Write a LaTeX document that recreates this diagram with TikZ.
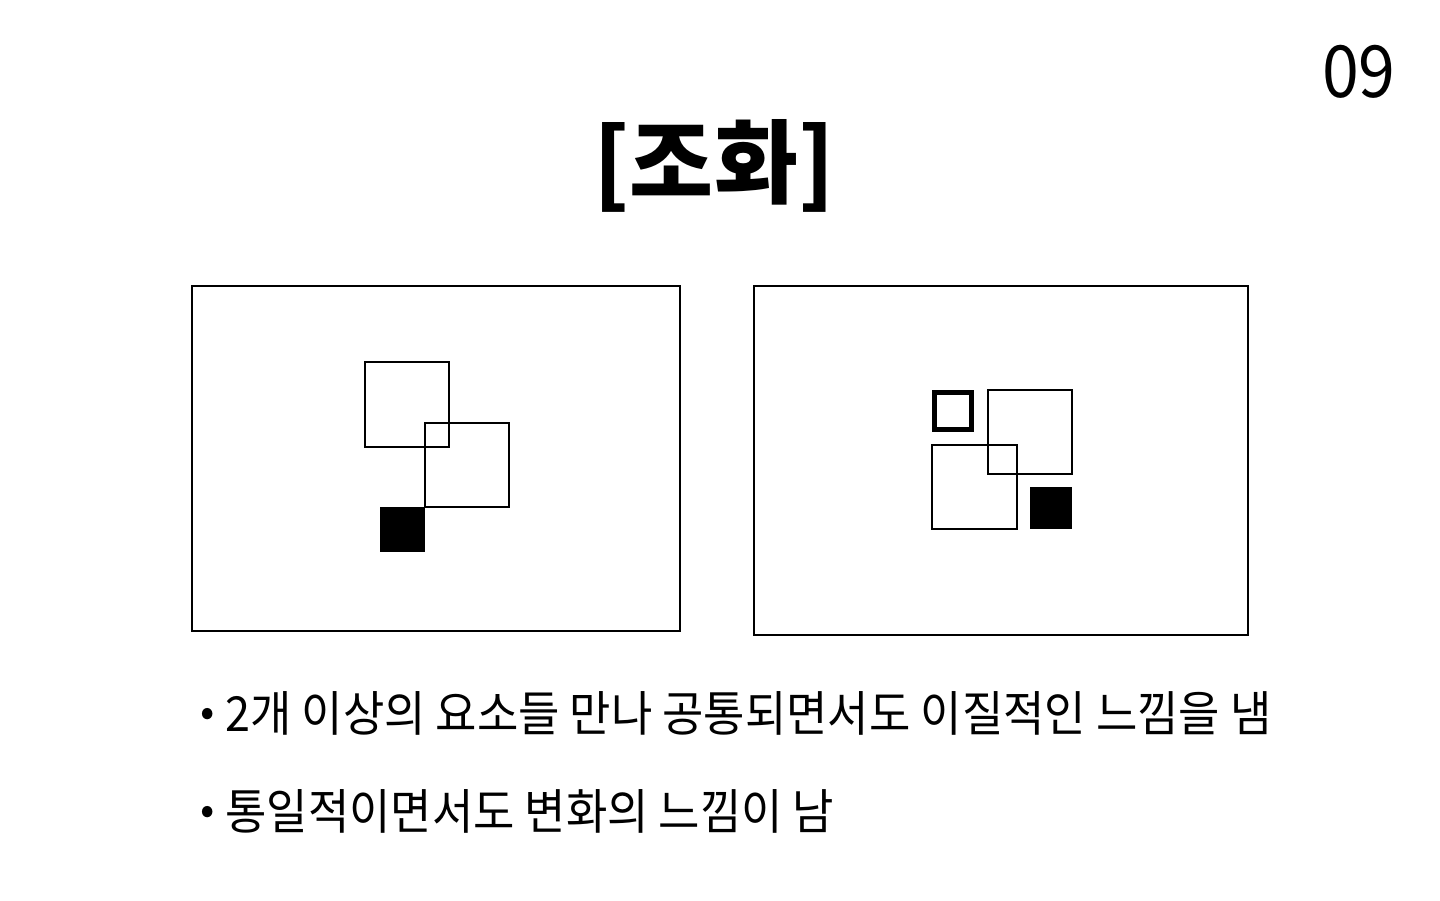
\documentclass[tikz,border=0pt]{standalone}
\usepackage{fontspec}
\setmainfont{Noto Sans CJK KR}
\colorlet{FilledSquare}{black}
\usetikzlibrary{positioning}

\begin{document}
\begin{tikzpicture}[x=0.02cm, y=-0.02cm,
    thin frame/.style={draw, line width=0.6pt},
    bullet line/.style={anchor=base west, inner sep=0pt, font=\fontsize{27.5}{27.5}\selectfont, xscale=0.93},
    bullet dot/.style={inner sep=0pt, font=\fontsize{24}{24}\selectfont}]

\useasboundingbox (0, 0) rectangle (1440, 900);

% title and page number
\node[inner sep=0pt, font=\bfseries\fontsize{52}{52}\selectfont] (title) at (714, 166) {[조화]};
\node[inner sep=0pt, font=\fontsize{41}{41}\selectfont, xscale=0.92, anchor=base east] (pagenum) at (1396, 97) {09};

% left frame
\coordinate (A) at (192, 286);
\coordinate (B) at (680, 631);
\draw[thin frame] (A) rectangle (B);
\draw[thin frame] (365, 362) rectangle (449, 447);
\draw[thin frame] (425, 423) rectangle (509, 507);
\fill[FilledSquare] (380, 507) rectangle (425, 552);

% right frame
\coordinate (C) at (754, 286);
\coordinate (D) at (1248, 635);
\draw[thin frame] (C) rectangle (D);
\draw[line width=3.1pt] (934.75, 392.75) rectangle (971.25, 429.25);
\draw[thin frame] (988, 390) rectangle (1072, 474);
\draw[thin frame] (932, 445) rectangle (1017, 529);
\fill[FilledSquare] (1030, 487) rectangle (1072, 529);

% bullet lines
\node[bullet dot] (dotone) at (207.5, 717) {•};
\node[bullet line] (lineone) at (225, 731) {2개 이상의 요소들 만나 공통되면서도 이질적인 느낌을 냄};
\node[bullet dot] (dottwo) at (207.5, 815) {•};
\node[bullet line] (linetwo) at (225, 829) {통일적이면서도 변화의 느낌이 남};

\end{tikzpicture}
\end{document}
